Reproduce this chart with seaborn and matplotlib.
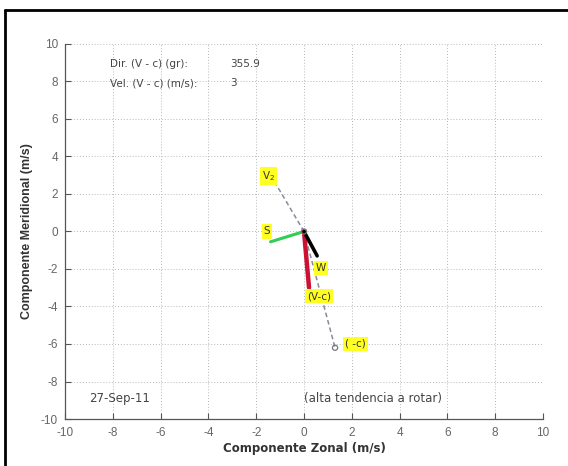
import matplotlib
matplotlib.use("Agg")
import matplotlib.pyplot as plt
import seaborn as sns
import numpy as np
import pandas as pd

# ---- data ----
vec_names = ["V2", "(-c)", "S", "W", "(V-c)"]
vec_u = [-1.3, 1.3, -1.4, 0.55, 0.21]
vec_v = [2.8, -6.2, -0.55, -1.3, -2.99]
label_names = ["V$_2$", "( -c)", "S", "W", "(V-c)"]
label_u = [-1.5, 2.15, -1.55, 0.72, 0.62]
label_v = [2.95, -6.0, 0.0, -1.95, -3.45]
ticks = [-10, -8, -6, -4, -2, 0, 2, 4, 6, 8, 10]
info_labels = ["Dir. (V - c) (gr):", "Vel. (V - c) (m/s):"]
info_values = ["355.9", "3"]
date_text = "27-Sep-11"
note_text = "(alta tendencia a rotar)"

sns.set_theme(style="white")
plt.rcParams['font.family'] = ['Liberation Sans', 'DejaVu Sans']
WIDE = ['DejaVu Sans']

fig = plt.figure(figsize=(5.68, 4.66), dpi=100)
ax = fig.add_axes([65/568, 1-419/466, (543-65)/568, (419-44)/466])

df = pd.DataFrame({"name": vec_names, "u": vec_u, "v": vec_v})

def seg(name):
    r = df[df.name == name].iloc[0]
    return pd.DataFrame({"x": [0, r.u], "y": [0, r.v]})

# dashed gray lines (V2 and -c)
for nm in ["V2", "(-c)"]:
    d = seg(nm)
    sns.lineplot(data=d, x="x", y="y", ax=ax, color="#8a8a9a", lw=1.1,
                 linestyle=(0, (3, 2)), sort=False, estimator=None)
# green S
sns.lineplot(data=seg("S"), x="x", y="y", ax=ax, color="#33cc55", lw=2.2,
             sort=False, estimator=None)
# red V-c
sns.lineplot(data=seg("(V-c)"), x="x", y="y", ax=ax, color="#cc1133", lw=3.2,
             sort=False, estimator=None)
# black W
sns.lineplot(data=seg("W"), x="x", y="y", ax=ax, color="black", lw=2.6,
             sort=False, estimator=None)
# markers
r = df[df.name == "(-c)"].iloc[0]
sns.scatterplot(x=[0, r.u], y=[0, r.v], ax=ax, s=14, facecolor="none",
                edgecolor="#777777", linewidth=0.9, zorder=5)

for t, x, y in zip(label_names, label_u, label_v):
    ax.text(x, y, t, fontsize=7.5, family=WIDE, color="#333333", ha="center", va="center",
            bbox=dict(boxstyle="square,pad=0.2", fc="#ffff22", ec="none"), zorder=6)

ax.set_xlim(-10, 10)
ax.set_ylim(-10, 10)
ax.set_xticks(ticks)
ax.set_yticks(ticks)
ax.set_xticklabels([str(t) for t in ticks])
ax.set_yticklabels([str(t) for t in ticks])
ax.grid(True, linestyle=(0, (1, 2)), color="#b8b8b8", lw=0.7)
ax.set_axisbelow(True)
ax.tick_params(direction="in", length=4, width=0.8, colors="#555555",
               labelsize=8.5, labelcolor="#666666", bottom=True, left=True)
ax.tick_params(axis="x", pad=6)
ax.tick_params(axis="y", pad=5)
for s in ["top", "right"]:
    ax.spines[s].set_visible(False)
for s in ["left", "bottom"]:
    ax.spines[s].set_color("#555555")
    ax.spines[s].set_linewidth(0.9)

ax.set_xlabel("Componente Zonal (m/s)", fontsize=8.5, family=WIDE, fontweight="bold",
              color="#333333", labelpad=2)
ax.set_ylabel("Componente Meridional (m/s)", fontsize=9, fontweight="bold",
              color="#333333", labelpad=6)

ax.text(-8.1, 8.95, info_labels[0], fontsize=7.5, family=WIDE, color="#444444", va="center")
ax.text(-8.1, 7.9, info_labels[1], fontsize=7.5, family=WIDE, color="#444444", va="center")
ax.text(-3.1, 8.95, info_values[0], fontsize=7.5, family=WIDE, color="#444444", va="center")
ax.text(-3.1, 7.9, info_values[1], fontsize=7.5, family=WIDE, color="#444444", va="center")
ax.text(-9.0, -8.9, date_text, fontsize=8.5, family=WIDE, color="#444444", va="center")
ax.text(0.0, -8.9, note_text, fontsize=8.5, family=WIDE, color="#444444", va="center")

# outer frame (left and top edges)
fig.add_artist(plt.Line2D([5/568, 5/568], [0, 1-10/466], transform=fig.transFigure, color="black", lw=2))
fig.add_artist(plt.Line2D([5/568, 1], [1-10/466, 1-10/466], transform=fig.transFigure, color="black", lw=2))

fig.savefig("out.png", dpi=100)
